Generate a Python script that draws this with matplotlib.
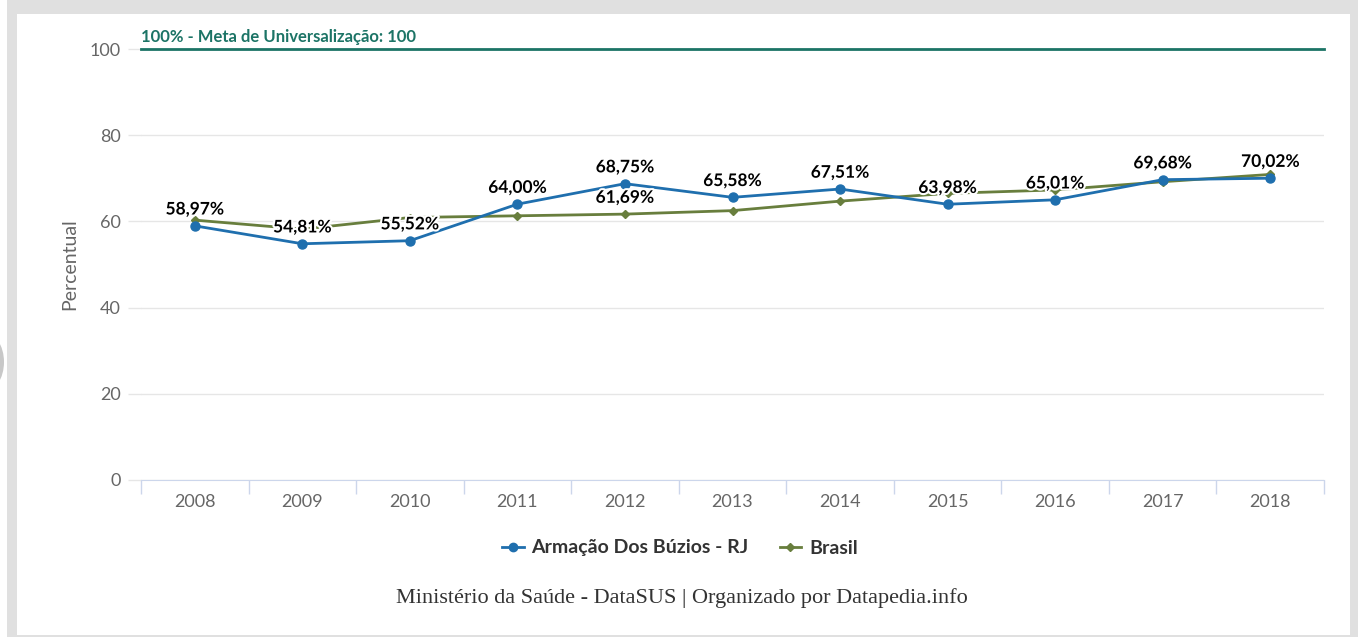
import matplotlib
matplotlib.use("Agg")
import matplotlib.pyplot as plt
import matplotlib.patheffects as pe
from matplotlib.lines import Line2D
from matplotlib.patches import Rectangle, Ellipse

# dados
anos = ["2008", "2009", "2010", "2011", "2012", "2013", "2014", "2015", "2016", "2017", "2018"]
buzios = [58.97, 54.81, 55.52, 64.00, 68.75, 65.58, 67.51, 63.98, 65.01, 69.68, 70.02]
brasil = [60.3, 58.2, 60.9, 61.3, 61.69, 62.5, 64.7, 66.5, 67.3, 69.2, 70.9]
rotulos_buzios = ["58,97%", "54,81%", "55,52%", "64,00%", "68,75%", "65,58%",
                  "67,51%", "63,98%", "65,01%", "69,68%", "70,02%"]
rotulos_brasil = [None, None, None, None, "61,69%", None, None, None, None, None, None]
meta = 100
yticks = [0, 20, 40, 60, 80, 100]

AZUL = "#1f6fae"
VERDE = "#687e3d"
TEAL = "#1c7466"
CINZA = "#666666"

plt.rcParams["font.family"] = ["Lato", "DejaVu Sans"]

W, H = 1358, 637
fig = plt.figure(figsize=(W / 100, H / 100), dpi=100)
fig.patch.set_facecolor("white")

# moldura cinza
fig.patches.append(Rectangle((7 / W, 0), 1 - 7 / W, 1, transform=fig.transFigure,
                             facecolor="#e0e0e0", edgecolor="none", zorder=-3))
fig.patches.append(Rectangle((17 / W, 2 / H), (1350 - 17) / W, (637 - 14 - 2) / H,
                             transform=fig.transFigure, facecolor="white",
                             edgecolor="none", zorder=-2))
fig.patches.append(Ellipse((-16 / W, 1 - 362 / H), 40 / W, 60 / H, transform=fig.transFigure,
                           facecolor="#c8c8c8", edgecolor="none", zorder=-1))

ax = fig.add_axes([141 / W, 1 - 480 / H, (1324 - 141) / W, (480 - 49) / H])
ax.set_facecolor("none")
x = list(range(len(anos)))

ax.set_xlim(-0.5, len(anos) - 0.5)
ax.set_ylim(0, 100)
ax.set_yticks(yticks)
ax.set_yticklabels([str(v) for v in yticks])
ax.grid(axis="y", color="#e6e6e6", lw=1)
ax.set_axisbelow(True)
for s in ["top", "right", "left"]:
    ax.spines[s].set_visible(False)
ax.spines["bottom"].set_color("#ccd6eb")
ax.tick_params(axis="y", length=9.5, width=1, color="#e6e6e6", pad=5,
               labelsize=13, labelcolor=CINZA)
ax.set_xticks(x)
ax.set_xticklabels(anos)
ax.tick_params(axis="x", length=0, pad=10, labelsize=13, labelcolor=CINZA)
ax.set_xticks([i - 0.5 for i in range(len(anos) + 1)], minor=True)
ax.tick_params(axis="x", which="minor", length=10, color="#ccd6eb", width=1)
ax.set_ylabel("Percentual", fontsize=14, color=CINZA, labelpad=8)

# meta
ax.axhline(meta, color=TEAL, lw=2, zorder=2, clip_on=False)
ax.annotate("100% - Meta de Universalização: 100", xy=(-0.5, meta), xytext=(0, 3),
            textcoords="offset points", fontsize=12, fontweight="bold",
            color=TEAL, ha="left", va="bottom")

ax.plot(x, brasil, color=VERDE, lw=2, marker="D", ms=4, zorder=3, clip_on=False)
ax.plot(x, buzios, color=AZUL, lw=2, marker="o", ms=6.5, zorder=4, clip_on=False)

contorno = [pe.withStroke(linewidth=3, foreground="white")]
for xi, v, r in zip(x, buzios, rotulos_buzios):
    ax.annotate(r, xy=(xi, v), xytext=(0, 6), textcoords="offset points",
                ha="center", va="bottom", fontsize=12.5, fontweight="bold",
                color="black", path_effects=contorno, zorder=6)
for xi, v, r in zip(x, brasil, rotulos_brasil):
    if r:
        ax.annotate(r, xy=(xi, v), xytext=(0, 6), textcoords="offset points",
                    ha="center", va="bottom", fontsize=12.5, fontweight="bold",
                    color="black", path_effects=contorno, zorder=6)

handles = [Line2D([], [], color=AZUL, lw=2, marker="o", ms=6),
           Line2D([], [], color=VERDE, lw=2, marker="D", ms=4)]
fig.legend(handles, ["Armação Dos Búzios - RJ", "Brasil"], loc="center",
           bbox_to_anchor=(680 / W, 1 - 548 / H), ncol=2, frameon=False,
           prop={"weight": "bold", "size": 14}, handlelength=1.1,
           handletextpad=0.4, columnspacing=1.6, labelcolor="#333333")

fig.text(682 / W, 1 - 598 / H, "Ministério da Saúde - DataSUS | Organizado por Datapedia.info",
         ha="center", va="center", fontsize=16, family="Liberation Serif", color="#333333")

fig.savefig("out.png", dpi=100)
